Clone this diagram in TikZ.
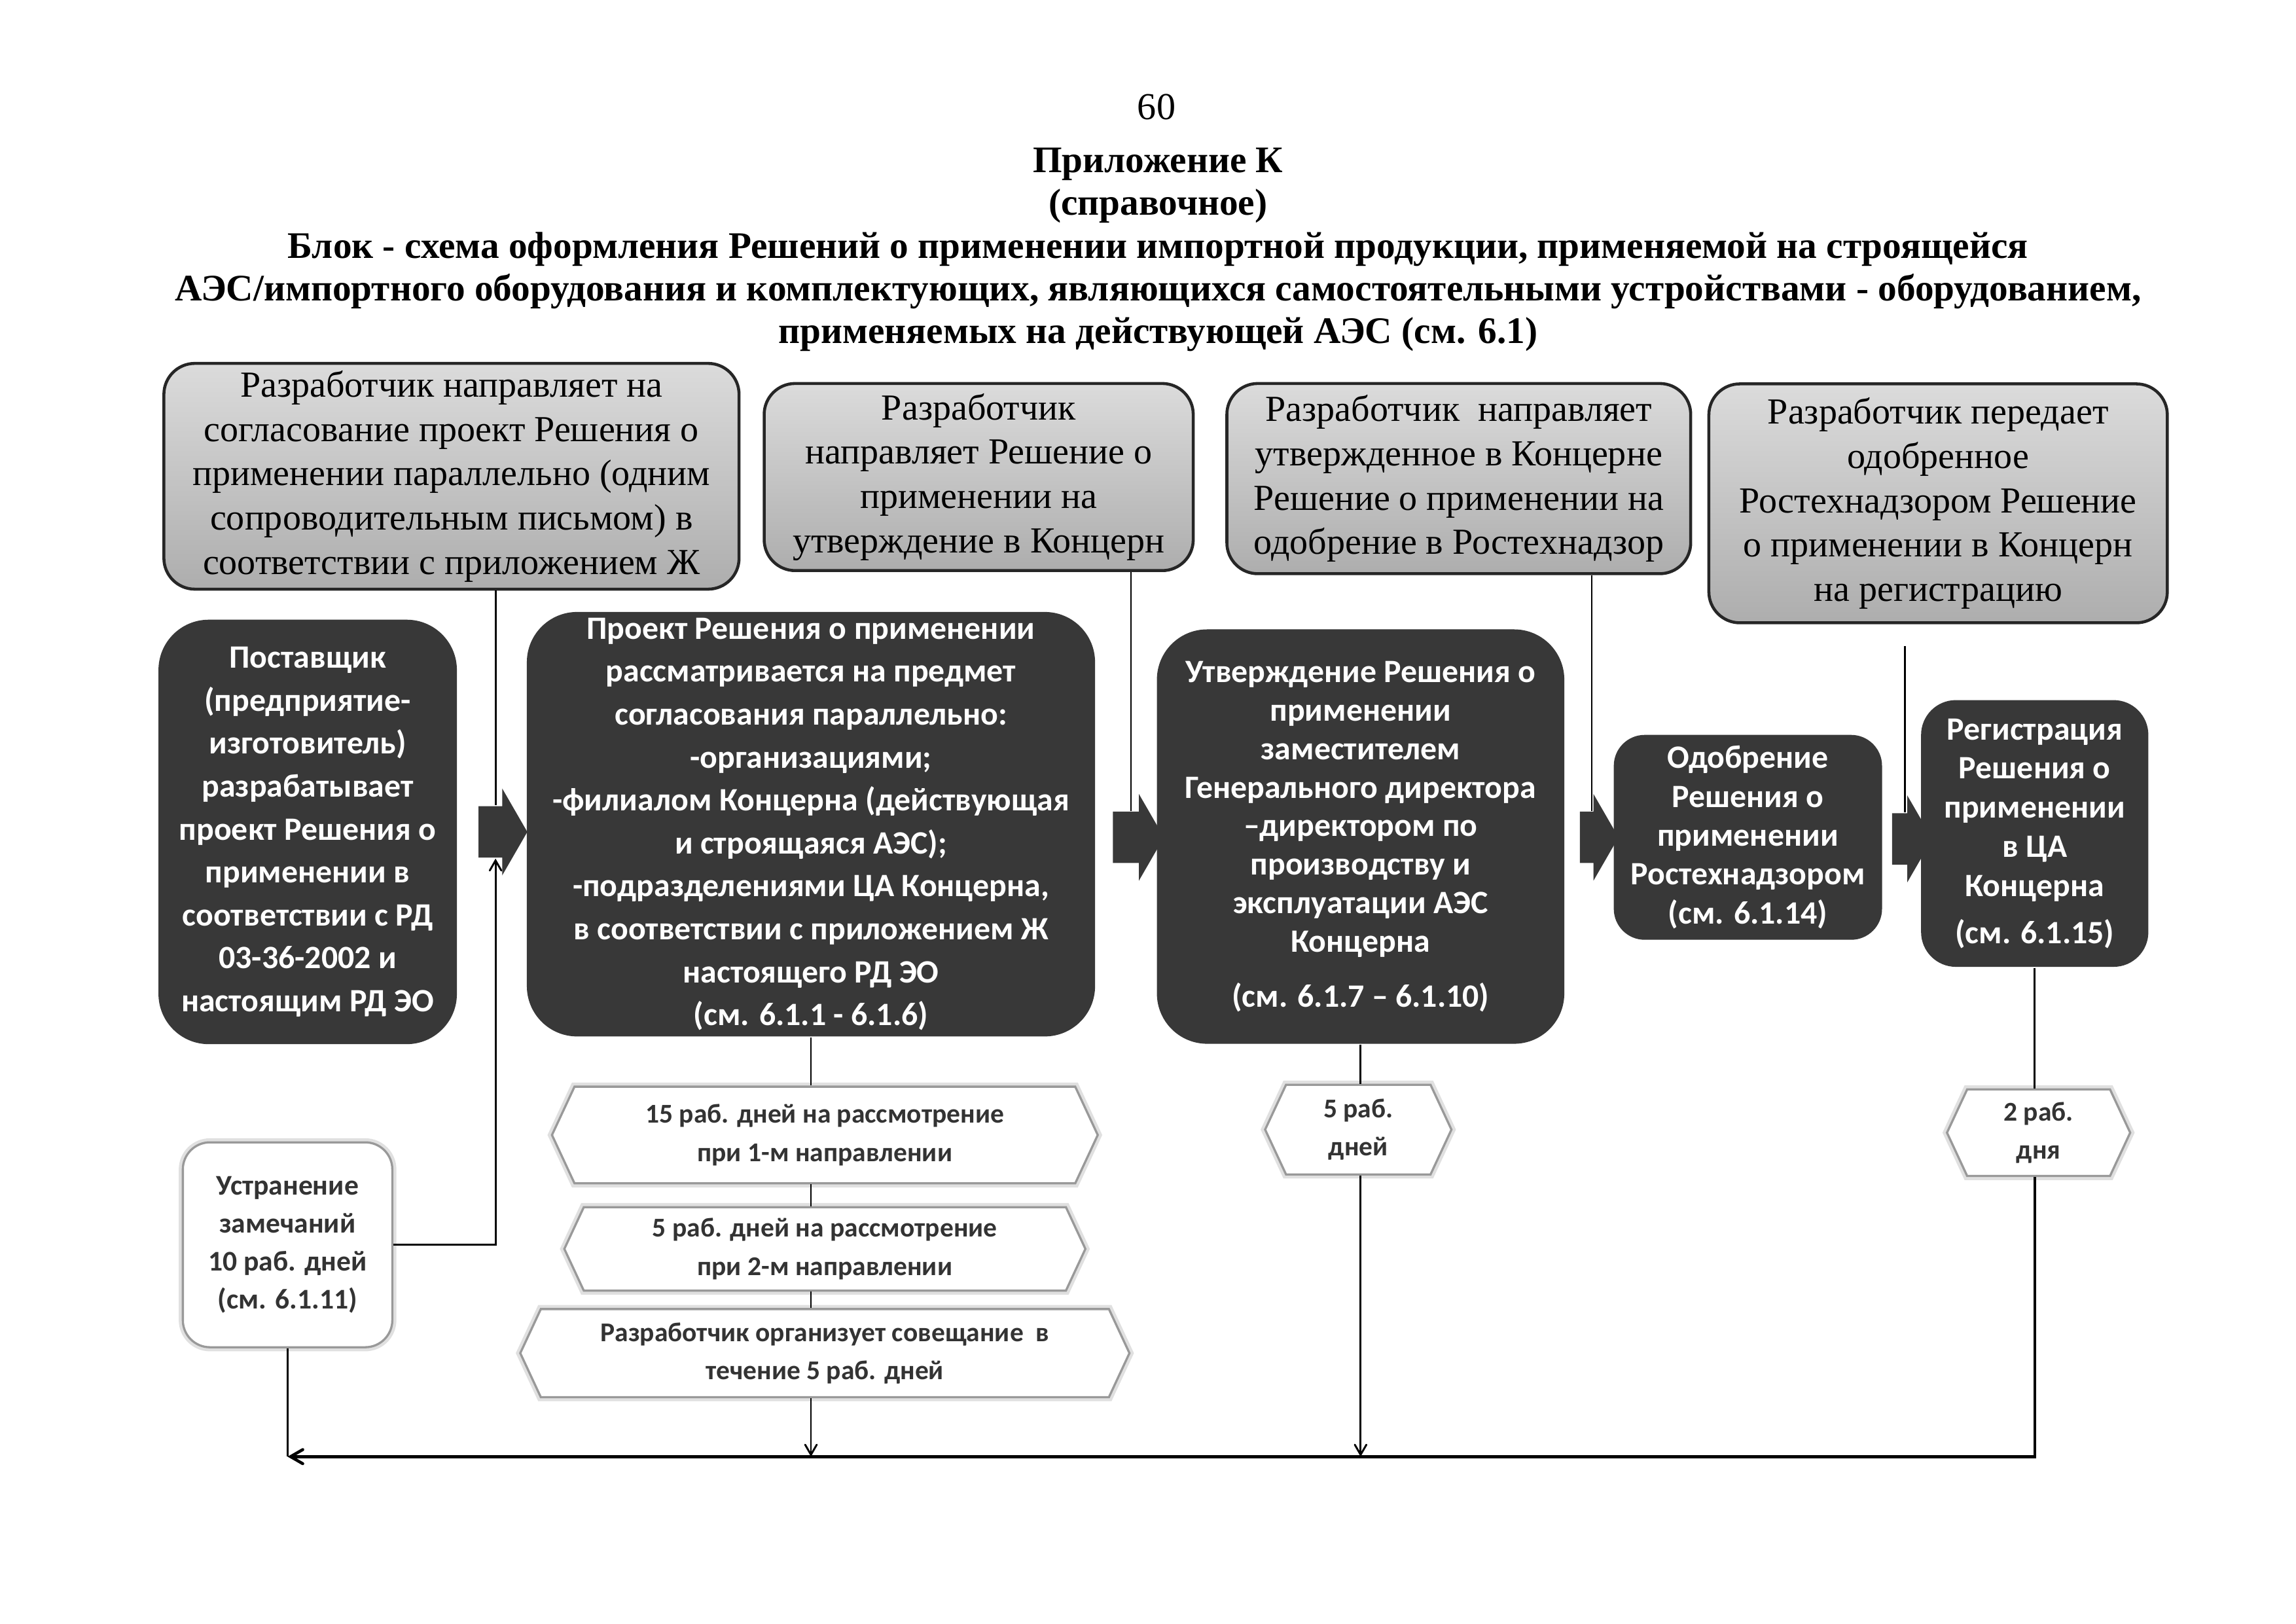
\documentclass[tikz,border=0pt]{standalone}
\usepackage{fontspec}
\setmainfont{Liberation Serif}
\newfontfamily\boxfont{Carlito}
\usepackage{tikz}
\usetikzlibrary{arrows}
\usetikzlibrary{positioning}
\usetikzlibrary{shapes.arrows,shapes.symbols}

\begin{document}
\begin{tikzpicture}[>=angle 60,line width=0.7pt,
  dev node/.style={rectangle,rounded corners=0.4cm,draw=black!85,line width=1.1pt,
    top color=black!14,bottom color=black!32,align=center,inner sep=2pt,
    font=\fontsize{13.5}{16.3}\selectfont},
  main node/.style={rectangle,rounded corners=0.65cm,fill=black!78,text=white,
    align=center,inner sep=2pt,font=\boxfont\bfseries\fontsize{12}{15.8}\selectfont},
  term node/.style={signal,signal to=west and east,signal pointer angle=130,
    draw=black!40,line width=0.8pt,preaction={draw=black!12,line width=3pt},
    fill=white,align=center,inner sep=1pt,text=black!80,
    font=\boxfont\bfseries\fontsize{10}{14}\selectfont},
  fix node/.style={rectangle,rounded corners=0.35cm,draw=black!40,line width=0.8pt,
    preaction={draw=black!12,line width=3pt},fill=white,align=center,text=black!80,
    font=\boxfont\bfseries\fontsize{10.5}{14}\selectfont},
  flow arrow/.style={single arrow,fill=black!78,inner xsep=0pt,inner ysep=0.32cm,
    single arrow head extend=0.23cm,single arrow tip angle=120}]

  \useasboundingbox (0,0) rectangle (29.7,-21.0);

  \node[font=\fontsize{14}{16}\selectfont] (page) at (14.96,-1.38) {60};
  \node[align=center,font=\bfseries\fontsize{13.8}{15.7}\selectfont] (title) at (14.98,-3.23)
    {Приложение К\\(справочное)\\
     Блок - схема оформления Решений о применении импортной продукции, применяемой на строящейся\\
     АЭС/импортного оборудования и комплектующих, являющихся самостоятельными устройствами - оборудованием,\\
     применяемых на действующей АЭС (см. 6.1)};

  % developer actions
  \node[dev node,minimum width=7.44cm,minimum height=2.92cm] (t1) at (5.84,-6.16)
    {Разработчик направляет на\\согласование проект Решения о\\применении параллельно (одним\\сопроводительным письмом) в\\соответствии с приложением Ж};
  \node[dev node,minimum width=5.55cm,minimum height=2.42cm] (t2) at (12.66,-6.17)
    {Разработчик\\направляет Решение о\\применении на\\утверждение в Концерн};
  \node[dev node,minimum width=6.0cm,minimum height=2.46cm] (t3) at (18.87,-6.19)
    {Разработчик\ \ направляет\\утвержденное в Концерне\\Решение о применении на\\одобрение в Ростехнадзор};
  \node[dev node,minimum width=5.93cm,minimum height=3.09cm] (t4) at (25.07,-6.51)
    {Разработчик передает\\одобренное\\Ростехнадзором Решение\\о применении в Концерн\\на регистрацию};

  % main stages
  \node[main node,minimum width=3.86cm,minimum height=5.49cm] (m1) at (3.98,-10.76)
    {Поставщик\\(предприятие-\\изготовитель)\\разрабатывает\\проект Решения о\\применении в\\соответствии с РД\\03-36-2002 и\\настоящим РД ЭО};
  \node[main node,minimum width=7.35cm,minimum height=5.49cm] (m2) at (10.49,-10.66)
    {Проект Решения о применении\\рассматривается на предмет\\согласования параллельно:\\-организациями;\\-филиалом Концерна (действующая\\и строящаяся АЭС);\\-подразделениями ЦА Концерна,\\в соответствии с приложением Ж\\настоящего РД ЭО\\(см. 6.1.1 - 6.1.6)};
  \node[main node,minimum width=5.27cm,minimum height=5.36cm,
    font=\boxfont\bfseries\fontsize{12}{14.2}\selectfont] (m3) at (17.60,-10.82)
    {Утверждение Решения о\\применении\\заместителем\\Генерального директора\\–директором по\\производству и\\эксплуатации АЭС\\Концерна\\[6pt](см. 6.1.7 – 6.1.10)};
  \node[main node,rounded corners=0.4cm,minimum width=3.47cm,minimum height=2.65cm,
    font=\boxfont\bfseries\fontsize{12}{14.3}\selectfont] (m4) at (22.61,-10.83)
    {Одобрение\\Решения о\\применении\\Ростехнадзором\\(см. 6.1.14)};
  \node[main node,rounded corners=0.45cm,minimum width=2.94cm,minimum height=3.45cm,
    font=\boxfont\bfseries\fontsize{12}{14.4}\selectfont] (m5) at (26.32,-10.78)
    {Регистрация\\Решения о\\применении\\в ЦА\\Концерна\\[3pt](см. 6.1.15)};

  \node[flow arrow,minimum height=0.63cm] (a1) at (6.41,-10.76) {};
  \node[flow arrow,minimum height=0.66cm] (a2) at (14.63,-10.83) {};
  \node[flow arrow,minimum height=0.50cm] (a3) at (20.59,-10.83) {};
  \node[flow arrow,minimum height=0.52cm] (a4) at (24.64,-10.85) {};

  % terms
  \node[term node,minimum width=7.06cm,minimum height=1.25cm] (h1) at (10.67,-14.68)
    {15 раб. дней на рассмотрение\\при 1-м направлении};
  \node[term node,minimum width=6.74cm,minimum height=1.08cm,below=0.28cm of h1] (h2)
    {5 раб. дней на рассмотрение\\при 2-м направлении};
  \node[term node,minimum width=7.88cm,minimum height=1.14cm,below=0.21cm of h2] (h3)
    {Разработчик организует совещание\ \ в\\течение 5 раб. дней};
  \node[term node,minimum width=2.41cm,minimum height=1.16cm] (h4) at (17.57,-14.61)
    {5 раб.\\дней};
  \node[term node,minimum width=2.37cm,minimum height=1.12cm] (h5) at (26.37,-14.65)
    {2 раб.\\дня};
  \node[fix node,minimum width=2.71cm,minimum height=2.65cm] (u) at (3.72,-16.10)
    {Устранение\\замечаний\\10 раб. дней\\(см. 6.1.11)};

  \coordinate (low) at (0,-18.84);

  \draw (t1.south -| a1.north) -- (a1.north);
  \draw (t2.south -| a2.north) -- (a2.north);
  \draw (t3.south -| a3.north) -- (a3.north);
  \draw[shorten <=0.28cm] (t4.south -| a4.north) -- (a4.north);
  \draw[->] (u.east) -| (a1.south);

  \draw (m2.south) -- (m2.south |- h1.north);
  \draw (m2.south |- h1.south) -- (m2.south |- h2.north);
  \draw (m2.south |- h2.south) -- (m2.south |- h3.north);
  \draw[->] (m2.south |- h3.south) -- (m2.south |- low);
  \draw (m3.south) -- (m3.south |- h4.north);
  \draw[->] (m3.south |- h4.south) -- (m3.south |- low);
  \draw (m5.south) -- (m5.south |- h5.north);
  \draw[->,line width=1.1pt] (m5.south |- h5.south) |- (u.south |- low);
  \draw (u.south) -- (u.south |- low);

\end{tikzpicture}
\end{document}
